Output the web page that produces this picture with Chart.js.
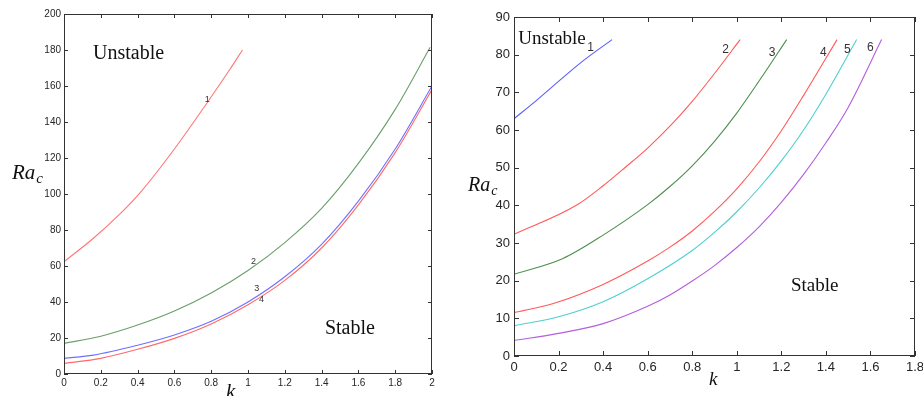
<!DOCTYPE html>
<html><head><meta charset="utf-8">
<script src="https://cdn.jsdelivr.net/npm/chart.js@4.4.0/dist/chart.umd.min.js"></script>
<style>
html,body{margin:0;padding:0;background:#fff;}
#w{position:relative;width:923px;height:396px;overflow:hidden;background:#fff;}
#c1{position:absolute;left:0;top:0;width:460px;height:396px;}
#c2{position:absolute;left:460px;top:0;width:463px;height:396px;}
</style></head><body>
<div id="w"><canvas id="c1" width="460" height="396"></canvas><canvas id="c2" width="463" height="396"></canvas></div>
<script>
// ---------- Left panel data ----------
const leftXTicks = [0, 0.2, 0.4, 0.6, 0.8, 1, 1.2, 1.4, 1.6, 1.8, 2];
const leftYTicks = [0, 20, 40, 60, 80, 100, 120, 140, 160, 180, 200];
const left1K  = [0, 0.16, 0.3, 0.42, 0.6, 0.78, 0.9, 0.97];
const left1Ra = [62.4, 75.4, 88.5, 101.5, 125, 151, 169, 180];
const left2K  = [0, 0.2, 0.4, 0.6, 0.8, 1.0, 1.2, 1.4, 1.6, 1.8, 1.99];
const left2Ra = [17, 21, 27.2, 35, 45, 57.5, 73, 92, 117, 147, 181.5];
const left3K  = [0, 0.16, 0.4, 0.6, 0.8, 1.0, 1.2, 1.4, 1.6, 1.8, 2.0];
const left3Ra = [8.7, 10.5, 16, 21.7, 29.3, 40, 54, 72, 96, 125, 160];
const left4K  = [0, 0.2, 0.4, 0.6, 0.8, 1.0, 1.2, 1.4, 1.6, 1.8, 2.0];
const left4Ra = [5.9, 8.7, 13.7, 19.8, 27.8, 38.5, 52, 70, 94, 123, 158];
const leftCurveLabels = ["1", "2", "3", "4"];
const leftCurveLabelK  = [0.779, 1.03, 1.047, 1.074];
const leftCurveLabelRa = [152.6, 62.4, 47.6, 41.5];

// ---------- Right panel data ----------
const rightXTicks = [0, 0.2, 0.4, 0.6, 0.8, 1, 1.2, 1.4, 1.6, 1.8];
const rightYTicks = [0, 10, 20, 30, 40, 50, 60, 70, 80, 90];
const right1K  = [0, 0.1, 0.2, 0.3, 0.44];
const right1Ra = [63, 67.8, 72.9, 77.9, 84];
const right2K  = [0, 0.28, 0.4, 0.5, 0.6, 0.7, 0.8, 0.9, 1.015];
const right2Ra = [32.3, 40, 45.2, 50.1, 55.2, 61, 67.6, 75, 84];
const right3K  = [0, 0.22, 0.4, 0.6, 0.7, 0.8, 0.9, 1.0, 1.1, 1.224];
const right3Ra = [21.7, 25.9, 32.1, 40.2, 45, 50.5, 57, 64.5, 73, 84];
const right4K  = [0, 0.18, 0.4, 0.6, 0.7, 0.8, 0.9, 1.0, 1.1, 1.2, 1.3, 1.45];
const right4Ra = [11.5, 14, 19, 25.2, 28.9, 33.2, 38.4, 44.4, 51.5, 59.8, 69.2, 84];
const right5K  = [0, 0.2, 0.4, 0.6, 0.8, 0.9, 1.0, 1.1, 1.2, 1.3, 1.4, 1.538];
const right5Ra = [8, 10.4, 14.4, 20.5, 28, 32.8, 38.3, 44.6, 51.8, 60, 69.5, 84];
const right6K  = [0, 0.2, 0.4, 0.6, 0.7, 0.8, 0.9, 1.0, 1.1, 1.2, 1.3, 1.4, 1.5, 1.65];
const right6Ra = [4.1, 6, 8.6, 13.2, 16.2, 19.9, 24, 28.8, 34.3, 40.8, 48.2, 56.6, 66, 84];
const rightCurveLabels = ["1", "2", "3", "4", "5", "6"];
const rightCurveLabelK  = [0.344, 0.95, 1.159, 1.388, 1.496, 1.6];
const rightCurveLabelRa = [81.8, 81.4, 80.6, 80.6, 81.4, 81.8];

const regionText = ["Unstable", "Stable"];

function pts(xs, ys){ return xs.map((x,i)=>({x:x, y:ys[i]})); }
function ds(xs, ys, color){
  return {data: pts(xs, ys), borderColor: color, borderWidth: 1.1, pointRadius: 0,
          cubicInterpolationMode: 'monotone', fill: false};
}
function fmt(v){ return String(Number(v.toFixed(1))); }

function makePlugin(cfg){
  return {
    id: 'decor',
    afterDraw(chart){
      const {ctx, chartArea: a, scales: {x, y}} = chart;
      ctx.save();
      ctx.strokeStyle = '#333';
      ctx.lineWidth = 1;
      ctx.strokeRect(Math.round(a.left)+0.5, Math.round(a.top)+0.5, Math.round(a.right-a.left)-1, Math.round(a.bottom-a.top)-1);
      const L = cfg.tickLen;
      ctx.beginPath();
      cfg.xTicks.forEach(t=>{
        const px = Math.round(x.getPixelForValue(t))+0.5;
        ctx.moveTo(px, a.bottom); ctx.lineTo(px, a.bottom-L);
        ctx.moveTo(px, a.top); ctx.lineTo(px, a.top+L);
      });
      cfg.yTicks.forEach(t=>{
        const py = Math.round(y.getPixelForValue(t))+0.5;
        ctx.moveTo(a.left, py); ctx.lineTo(a.left+L, py);
        ctx.moveTo(a.right, py); ctx.lineTo(a.right-L, py);
      });
      ctx.stroke();
      // curve labels
      ctx.fillStyle = '#333';
      ctx.font = cfg.numFont;
      ctx.textAlign = 'center'; ctx.textBaseline = 'middle';
      cfg.labels.forEach((s,i)=>{
        ctx.fillText(s, x.getPixelForValue(cfg.labelK[i]), y.getPixelForValue(cfg.labelRa[i]));
      });
      // region labels
      ctx.fillStyle = '#111';
      ctx.textAlign = 'left'; ctx.textBaseline = 'alphabetic';
      ctx.font = cfg.regionFont;
      ctx.fillText(regionText[0], x.getPixelForValue(cfg.unstablePos[0]), y.getPixelForValue(cfg.unstablePos[1]));
      ctx.fillText(regionText[1], x.getPixelForValue(cfg.stablePos[0]), y.getPixelForValue(cfg.stablePos[1]));
      // axis titles
      ctx.font = cfg.raFont;
      ctx.fillText('Ra', cfg.raPos[0], cfg.raPos[1]);
      const w = ctx.measureText('Ra').width;
      ctx.font = cfg.subFont;
      ctx.fillText('c', cfg.raPos[0]+w+1, cfg.raPos[1]+cfg.subDrop);
      ctx.font = cfg.kFont;
      ctx.fillText('k', cfg.kPos[0], cfg.kPos[1]);
      ctx.restore();
    }
  };
}

function scaleOpts(min, max, step, font, pad, isX, size){
  return {
    type: 'linear', min: min, max: max,
    grid: {display: false, drawTicks: false},
    border: {display: false},
    ticks: {stepSize: step, font: font, color: '#262626', padding: pad, callback: v => fmt(v), maxRotation: 0, autoSkip: false},
    afterFit(s){
      if (isX){ s.height = size; s.paddingLeft = 0; s.paddingRight = 0; }
      else { s.width = size; s.paddingTop = 0; s.paddingBottom = 0; }
    }
  };
}

new Chart(document.getElementById('c1'), {
  type: 'line',
  data: {datasets: [
    ds(left1K, left1Ra, '#ff7777'),
    ds(left2K, left2Ra, '#6a9f6a'),
    ds(left3K, left3Ra, '#6f6fff'),
    ds(left4K, left4Ra, '#ff6a6a')
  ]},
  options: {
    responsive: false, animation: false,
    layout: {padding: {top: 14, right: 28, left: 0, bottom: 0}},
    plugins: {legend: {display: false}, tooltip: {enabled: false}},
    scales: {
      x: scaleOpts(0, 2, 0.2, {family: 'Liberation Sans, Arial', size: 10}, 3, true, 22),
      y: scaleOpts(0, 200, 20, {family: 'Liberation Sans, Arial', size: 10}, 3, false, 64)
    }
  },
  plugins: [makePlugin({
    tickLen: 4, xTicks: leftXTicks, yTicks: leftYTicks,
    numFont: '9px "Liberation Sans", Arial',
    labels: leftCurveLabels, labelK: leftCurveLabelK, labelRa: leftCurveLabelRa,
    regionFont: '20px "Liberation Serif", "Times New Roman", serif',
    unstablePos: [0.158, 175], stablePos: [1.418, 22.2],
    raFont: 'italic 21px "Liberation Serif", serif', subFont: 'italic 15px "Liberation Serif", serif',
    raPos: [12, 179], subDrop: 4,
    kFont: 'italic 21px "Liberation Serif", serif', kPos: [226, 398]
  })]
});

new Chart(document.getElementById('c2'), {
  type: 'line',
  data: {datasets: [
    ds(right1K, right1Ra, '#5c5cff'),
    ds(right2K, right2Ra, '#ff5a5a'),
    ds(right3K, right3Ra, '#4f8f4f'),
    ds(right4K, right4Ra, '#ff5a5a'),
    ds(right5K, right5Ra, '#4fcfcf'),
    ds(right6K, right6Ra, '#b45ee0')
  ]},
  options: {
    responsive: false, animation: false,
    layout: {padding: {top: 17, right: 8, left: 0, bottom: 0}},
    plugins: {legend: {display: false}, tooltip: {enabled: false}},
    scales: {
      x: scaleOpts(0, 1.8, 0.2, {family: 'Liberation Sans, Arial', size: 13}, 4, true, 40),
      y: scaleOpts(0, 90, 10, {family: 'Liberation Sans, Arial', size: 13}, 4, false, 54)
    }
  },
  plugins: [makePlugin({
    tickLen: 5, xTicks: rightXTicks, yTicks: rightYTicks,
    numFont: '12px "Liberation Sans", Arial',
    labels: rightCurveLabels, labelK: rightCurveLabelK, labelRa: rightCurveLabelRa,
    regionFont: '19px "Liberation Serif", "Times New Roman", serif',
    unstablePos: [0.019, 82.9], stablePos: [1.243, 17.2],
    raFont: 'italic 20px "Liberation Serif", serif', subFont: 'italic 14px "Liberation Serif", serif',
    raPos: [8, 191], subDrop: 4,
    kFont: 'italic 19px "Liberation Serif", serif', kPos: [249, 385]
  })]
});
</script>
</body></html>
